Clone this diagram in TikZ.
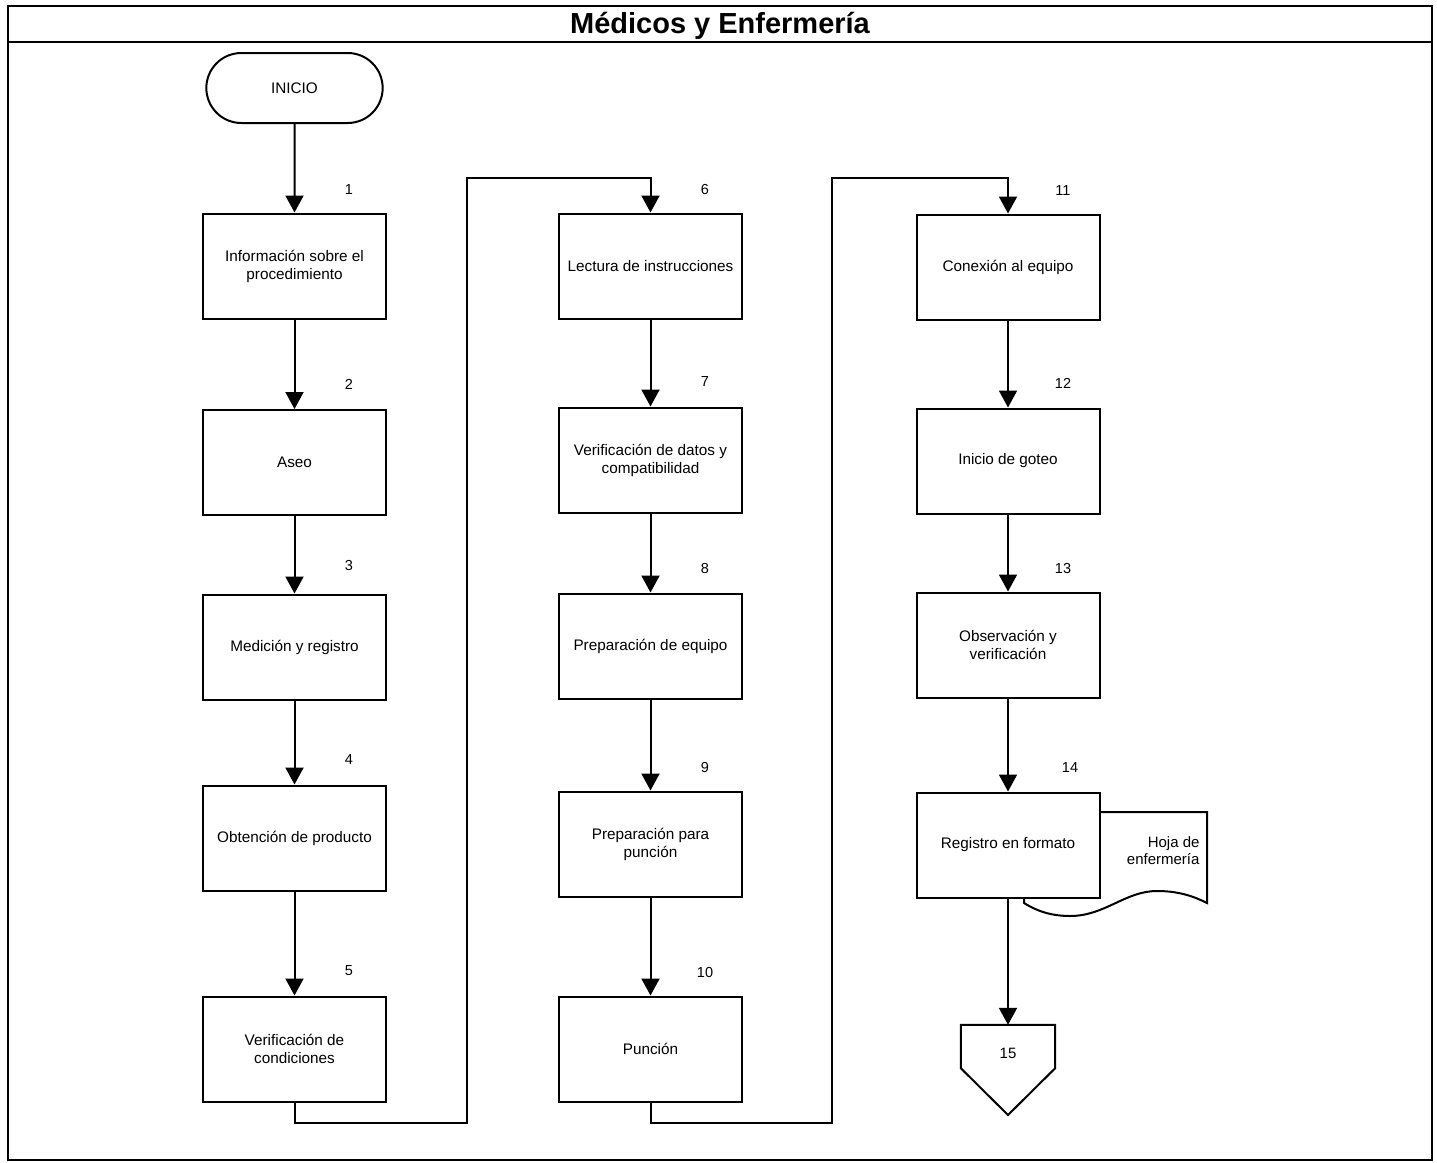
\documentclass[tikz,border=0pt]{standalone}
\usepackage{fontspec}
\setmainfont{Liberation Sans}
\usetikzlibrary{arrows.meta,shapes.misc}
\begin{document}
\begin{tikzpicture}[x=1pt,y=-1pt,
  box/.style={draw,line width=2pt,fill=white,minimum width=183pt,minimum height=105pt,align=center,font=\fontsize{15.3}{18}\selectfont,inner sep=2pt},
  term/.style={draw,line width=2pt,rounded rectangle,minimum width=183pt,minimum height=70pt,font=\fontsize{15.3}{18}\selectfont},
  num/.style={font=\fontsize{14.5}{16}\selectfont},
  arr/.style={line width=2pt,-{Triangle[width=18pt,length=17pt]}},
  frame/.style={line width=1.5pt}]
\useasboundingbox (0,0) rectangle (1437,1162);
% frame
\draw[frame] (8,6) rectangle (1432,1160);
\draw[frame] (8,42) -- (1432,42);
\node[font=\bfseries\fontsize{29}{34}\selectfont] (title) at (720,25.5) {Médicos y Enfermería};
% column 1
\node[term] (ini) at (294.5,88) {INICIO};
\node[box] (b1) at (294.5,266) {Información sobre el\\procedimiento};
\node[box] (b2) at (294.5,462.5) {Aseo};
\node[box] (b3) at (294.5,647) {Medición y registro};
\node[box] (b4) at (294.5,838) {Obtención de producto};
\node[box] (b5) at (294.5,1049) {Verificación de\\condiciones};
% column 2
\node[box] (b6) at (650.5,266) {Lectura de instrucciones};
\node[box] (b7) at (650.5,460) {Verificación de datos y\\compatibilidad};
\node[box] (b8) at (650.5,646) {Preparación de equipo};
\node[box] (b9) at (650.5,844) {Preparación para\\punción};
\node[box] (b10) at (650.5,1049) {Punción};
% column 3
\node[box] (b11) at (1008,267) {Conexión al equipo};
\node[box] (b12) at (1008,461) {Inicio de goteo};
\node[box] (b13) at (1008,645) {Observación y\\verificación};
% document
\draw[line width=2pt,fill=white] (1024,896) -- (1024,903) .. controls (1040,913) and (1055,916) .. (1070,916) .. controls (1105,916) and (1125,891) .. (1157,891) .. controls (1180,891) and (1195,897) .. (1207,903) -- (1207,812) -- (1090,812) -- (1090,896) -- cycle;
\node[box] (b14) at (1008,845) {Registro en formato};
\node[align=right,font=\fontsize{15}{17}\selectfont,anchor=east] (doc) at (1203,851) {Hoja de\\enfermería};
% off-page connector
\node[minimum width=94pt,minimum height=43pt,inner sep=0pt] (c15) at (1008,1046.5) {};
\draw[line width=2pt] (c15.north west) -- (c15.north east) -- (c15.south east) -- (1008,1115) -- (c15.south west) -- cycle;
\node[font=\fontsize{15}{18}\selectfont] (l15) at (1008,1053) {15};
% numbers
\node[num] (n1) at (349,190) {1};
\node[num] (n2) at (349,384) {2};
\node[num] (n3) at (349,565) {3};
\node[num] (n4) at (349,760) {4};
\node[num] (n5) at (349,971) {5};
\node[num] (n6) at (705,190) {6};
\node[num] (n7) at (705,382) {7};
\node[num] (n8) at (705,568) {8};
\node[num] (n9) at (705,767) {9};
\node[num] (n10) at (705,972) {10};
\node[num] (n11) at (1063,191) {11};
\node[num] (n12) at (1063,383) {12};
\node[num] (n13) at (1063,568) {13};
\node[num] (n14) at (1070,768) {14};
% connectors
\draw[arr] (ini) -- (b1);
\draw[arr] (b1) -- (b2);
\draw[arr] (b2) -- (b3);
\draw[arr] (b3) -- (b4);
\draw[arr] (b4) -- (b5);
\draw[arr] (b6) -- (b7);
\draw[arr] (b7) -- (b8);
\draw[arr] (b8) -- (b9);
\draw[arr] (b9) -- (b10);
\draw[arr] (b11) -- (b12);
\draw[arr] (b12) -- (b13);
\draw[arr] (b13) -- (b14);
\draw[arr] (b14) -- (c15.north);
\coordinate (ra) at (467,1123);
\coordinate (rb) at (467,178);
\coordinate (rc) at (832,1123);
\coordinate (rd) at (832,178);
\draw[arr] (b5.south) |- (ra) -- (rb) -| (b6.north);
\draw[arr] (b10.south) |- (rc) -- (rd) -| (b11.north);
\end{tikzpicture}
\end{document}
